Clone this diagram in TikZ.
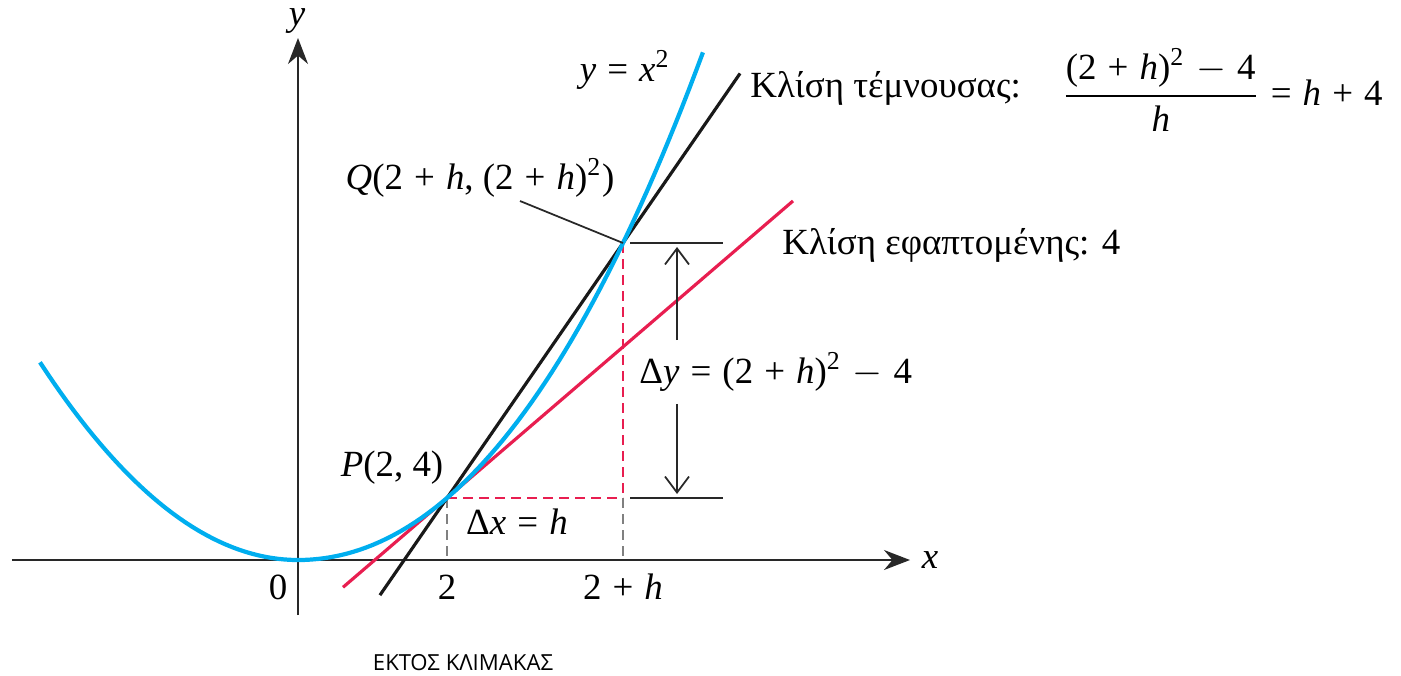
\documentclass[tikz,border=0pt]{standalone}
\usepackage{amsmath}
\usepackage{fontspec}
\setmainfont{Liberation Serif}
\newfontfamily\notefont{Open Sans}
\usepackage{xcolor}
\usetikzlibrary{arrows.meta, positioning, calc}
\definecolor{curveblue}{RGB}{0,174,239}
\definecolor{tanred}{RGB}{232,30,80}
\definecolor{axisgray}{RGB}{40,40,40}
% italic letters and operators set in the text font
\newcommand{\mv}[1]{\textit{#1}\/}
\newcommand{\sq}{\textsuperscript{2}}
\newcommand{\op}[1]{\hspace{0.3em}#1\hspace{0.3em}}
\newcommand{\mn}{\op{$-$}}
\tikzset{
    secantfig/.style={>=Stealth, font=\fontsize{10.5}{12}\selectfont},
    axis/.style={draw=axisgray, line width=0.5pt, ->, >={Stealth[length=2.6mm, width=2mm]}},
    curve/.style={draw=curveblue, line width=1.2pt},
    tangent/.style={draw=tanred, line width=0.9pt},
    secant/.style={draw=black!90, line width=0.9pt},
    reddash/.style={draw=tanred, line width=0.5pt, dash pattern=on 1mm off 0.6mm},
    graydash/.style={draw=gray, line width=0.5pt, dash pattern=on 1mm off 0.6mm},
    guide/.style={draw=axisgray, line width=0.5pt},
    measure/.style={draw=axisgray, line width=0.5pt, -{Straight Barb[length=1.6mm, width=2.4mm]}},
}

\begin{document}
\begin{tikzpicture}[secantfig]
    \useasboundingbox (-2.98,-1.15) rectangle (11.03,5.60);

    % points on the curve (not to scale)
    \coordinate (O) at (0,0);
    \coordinate (P) at (1.49,0.62);
    \coordinate (Q) at (3.25,3.17);
    \coordinate (T) at ($(P)+(1,0.8585)$);
    \coordinate (Px) at (1.49,0);
    \coordinate (Qx) at (3.25,0);
    \coordinate (QP) at (3.25,0.62);

    % axes
    \draw[axis] (-2.86,0) -- (6.12,0);
    \draw[axis] (0,-0.55) -- (0,5.22);
    \node (xl) at (6.32,0) {\mv{x}};
    \node[inner sep=1pt] (yl) at (-0.01,5.39) {\mv{y}};

    % guide lines
    \draw[graydash] (P) -- (Px);
    \draw[graydash] (QP) -- (Qx);
    \draw[reddash] (P) -- (QP);
    \draw[reddash] (Q) -- (QP);
    \coordinate (gt) at (4.25,3.17);
    \coordinate (gb) at (4.25,0.62);
    \draw[guide] ($(Q)+(0.07,0)$) -- (gt);
    \draw[guide] ($(QP)+(0.07,0)$) -- (gb);

    % tangent and secant
    \draw[tangent] ($(P)!-1.04!(T)$) -- ($(P)!3.46!(T)$);
    \draw[secant] ($(P)!-0.381!(Q)$) -- ($(P)!1.665!(Q)$);

    % y = x^2
    \draw[curve] plot[domain=-2.58:0, samples=40] (\x,{0.297*\x*\x})
        -- plot[domain=0:4.05, samples=60] (\x,{0.26162*\x*\x+0.011845*\x*\x*\x});

    % labels
    \node (n0) at (-0.20,-0.27) {0};
    \node (n2) at (1.49,-0.27) {2};
    \node (n2h) at (3.25,-0.27) {2\op{+}\mv{h}};
    \node (dx) at (2.19,0.38) {Δ\mv{x}\op{=}\mv{h}};
    \node (pl) at (0.94,0.92) {\mv{P}(2, 4)};
    \node (ql) at (1.82,3.82) {\mv{Q}(2\op{+}\mv{h}, (2\op{+}\mv{h})\sq)};
    \draw[guide] (2.22,3.59) -- (Q);
    \node (fl) at (3.27,4.90) {\mv{y}\op{=}\mv{x}\sq};
    \node[anchor=west] (sl) at (4.40,4.72) {Κλίση τέμνουσας:};
    \node[anchor=east] (sf) at (10.97,4.70)
        {$\dfrac{\text{(2\op{+}\mv{h})\sq\mn4}}{\text{\mv{h}}}$\op{=}\mv{h}\op{+}4};
    \node[anchor=west] (tl) at (4.72,3.15) {Κλίση εφαπτομένης: 4};
    \node[anchor=west] (dy) at (3.29,1.88) {Δ\mv{y}\op{=}(2\op{+}\mv{h})\sq\mn4};
    \coordinate (at) at (3.79,3.13);
    \coordinate (ab) at (3.79,0.66);
    \draw[measure] (at |- dy.north) -- (at);
    \draw[measure] (ab |- dy.south) -- (ab);

    \node (ns) at (1.65,-1.03) {\notefont\fontsize{6.3}{7}\selectfont ΕΚΤΟΣ ΚΛΙΜΑΚΑΣ};
\end{tikzpicture}
\end{document}
